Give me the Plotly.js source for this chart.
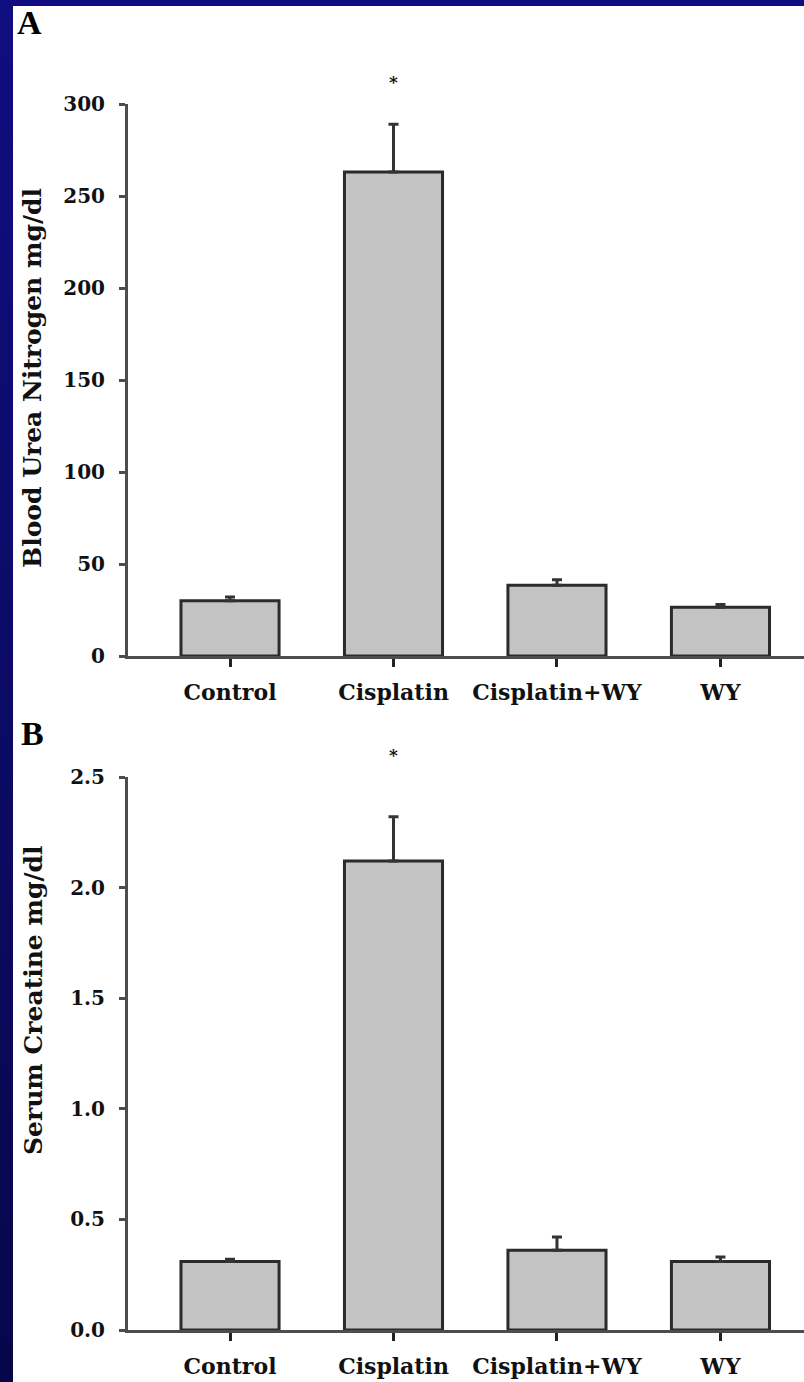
<!DOCTYPE html>
<html>
<head>
<meta charset="utf-8">
<script src="https://cdn.plot.ly/plotly-3.0.1.min.js"></script>
<style>
  html, body { margin: 0; padding: 0; background: #ffffff; }
  #leftstrip { position: absolute; left: 0; top: 0; width: 13px; height: 1382px;
    background: linear-gradient(to bottom, #100d80, #0b0a60 60%, #08064a); }
  #topstrip { position: absolute; left: 0; top: 0; width: 804px; height: 6px; background: #100d80; }
  #chart { position: absolute; left: 0; top: 0; width: 804px; height: 1382px; }
</style>
</head>
<body>
<div id="leftstrip"></div>
<div id="topstrip"></div>
<div id="chart"></div>
<script>
// ---- data ----
const categories = ["Control", "Cisplatin", "Cisplatin+WY", "WY"];
const bunValues = [30, 263, 38.5, 26.5];
const bunErrors = [2, 26, 3, 1.5];
const creatValues = [0.31, 2.12, 0.36, 0.31];
const creatErrors = [0.01, 0.2, 0.06, 0.02];
const bunTicks = [0, 50, 100, 150, 200, 250, 300];
const creatTicks = [0, 0.5, 1.0, 1.5, 2.0, 2.5];
const bunTitle = "Blood Urea Nitrogen mg/dl";
const creatTitle = "Serum Creatine mg/dl";
const significant = [false, true, false, false];

// ---- style ----
const W = 804, H = 1382;
const FONT = "DejaVu Serif";
const barFill = "#c3c3c3";
const barLine = "#2b2b2b";
const axisCol = "#4d4d4d";
const idx = categories.map((_, i) => i);

function barTrace(vals, errs, xa, ya) {
  return {
    type: "bar", x: idx, y: vals, xaxis: xa, yaxis: ya, width: 0.6,
    marker: { color: barFill, line: { color: barLine, width: 3 } },
    error_y: { type: "data", symmetric: false, array: errs,
      arrayminus: errs.map(() => 0), color: "#333333", thickness: 3, width: 5 },
    hoverinfo: "none", showlegend: false
  };
}

const pxY = y => 1 - y / H;
const xDomain = [128 / W, 1];
const xRange = [-0.624, 3.511];

function xAxis(anchor) {
  return {
    domain: xDomain, range: xRange, anchor: anchor,
    tickmode: "array", tickvals: idx, ticktext: categories,
    ticks: "outside", ticklen: 8, tickwidth: 3, tickcolor: "#222222",
    showline: true, linecolor: axisCol, linewidth: 3,
    showgrid: false, zeroline: false, fixedrange: true,
    ticklabelstandoff: 7,
    tickfont: { family: FONT, size: 22, color: "#111111", weight: "bold" }
  };
}
function yAxis(anchor, dom, rng, ticks, fmt) {
  return {
    domain: dom, range: rng, anchor: anchor,
    tickmode: "array", tickvals: ticks, tickformat: fmt,
    ticks: "outside", ticklen: 6, tickwidth: 3, tickcolor: axisCol,
    showline: true, linecolor: axisCol, linewidth: 3,
    showgrid: false, zeroline: false, fixedrange: true,
    ticklabelstandoff: 10,
    tickfont: { family: FONT, size: 20, color: "#111111", weight: "bold" }
  };
}

const annotations = [
  { text: "A", xref: "paper", yref: "paper", x: 15 / W, y: pxY(22), xanchor: "left", yanchor: "middle",
    showarrow: false, font: { family: "Liberation Serif", size: 34, color: "#000", weight: "bold" } },
  { text: "B", xref: "paper", yref: "paper", x: 19 / W, y: pxY(734), xanchor: "left", yanchor: "middle",
    showarrow: false, font: { family: "Liberation Serif", size: 34, color: "#000", weight: "bold" } },
  { text: bunTitle, xref: "paper", yref: "paper", x: 33 / W, y: pxY(378), textangle: -90,
    xanchor: "center", yanchor: "middle", showarrow: false,
    font: { family: FONT, size: 25, color: "#111", weight: "bold" } },
  { text: creatTitle, xref: "paper", yref: "paper", x: 33 / W, y: pxY(1000), textangle: -90,
    xanchor: "center", yanchor: "middle", showarrow: false,
    font: { family: FONT, size: 25, color: "#111", weight: "bold" } }
];
significant.forEach((s, i) => {
  if (!s) return;
  annotations.push({ text: "*", x: i, y: bunValues[i] + bunErrors[i], xref: "x", yref: "y",
    yanchor: "bottom", yshift: 30, showarrow: false,
    font: { family: FONT, size: 17, color: "#111", weight: "bold" } });
  annotations.push({ text: "*", x: i, y: creatValues[i] + creatErrors[i], xref: "x2", yref: "y2",
    yanchor: "bottom", yshift: 50, showarrow: false,
    font: { family: FONT, size: 17, color: "#111", weight: "bold" } });
});

const layout = {
  width: W, height: H,
  margin: { l: 0, r: 0, t: 0, b: 0 },
  paper_bgcolor: "rgba(0,0,0,0)", plot_bgcolor: "rgba(0,0,0,0)",
  xaxis: xAxis("y"),
  yaxis: yAxis("x", [pxY(656), pxY(104)], [0, 300], bunTicks, "d"),
  xaxis2: xAxis("y2"),
  yaxis2: yAxis("x2", [pxY(1330), pxY(777)], [0, 2.5], creatTicks, ".1f"),
  annotations: annotations,
  bargap: 0.4
};

Plotly.newPlot("chart", [
  barTrace(bunValues, bunErrors, "x", "y"),
  barTrace(creatValues, creatErrors, "x2", "y2")
], layout, { displayModeBar: false, staticPlot: true });
</script>
</body>
</html>
